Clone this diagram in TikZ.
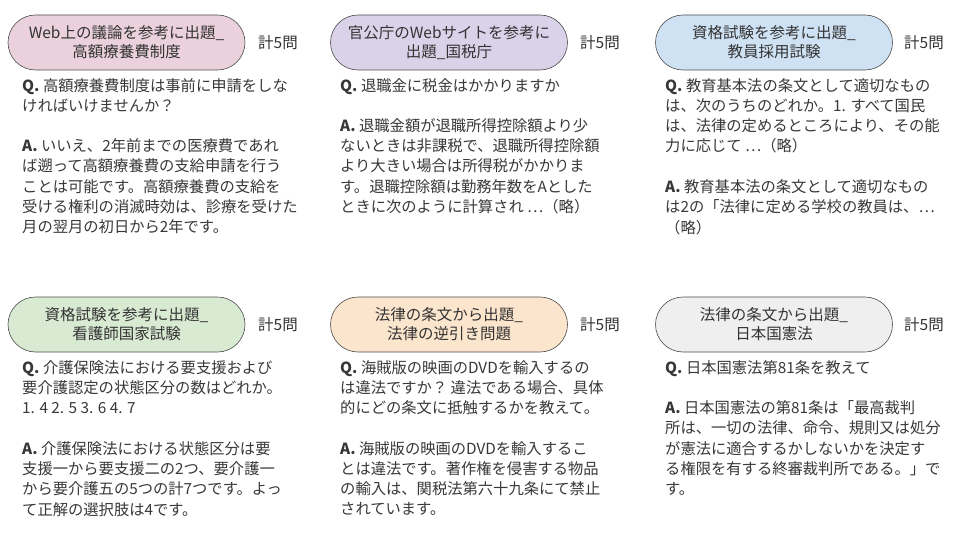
\documentclass[tikz,border=0pt]{standalone}
\usepackage{fontspec}
\setmainfont{Noto Sans CJK JP}
\begin{document}
\begin{tikzpicture}[x=1pt,y=-1pt,
  pill/.style={draw=black!70,line width=0.6pt,rounded corners=27.5pt,minimum width=237pt,minimum height=55pt,align=center,font=\fontsize{15.5}{19}\selectfont,text=black!80,inner sep=0pt},
  cnt/.style={font=\fontsize{15.5}{18}\selectfont,text=black!80},
  body/.style={anchor=north west,align=left,font=\fontsize{15.3}{20.3}\selectfont,text=black!78,inner sep=0pt}]
\definecolor{cpink}{HTML}{EAD1DC}
\definecolor{cpurple}{HTML}{D9D2E9}
\definecolor{cblue}{HTML}{CFE2F3}
\definecolor{cgreen}{HTML}{D9EAD3}
\definecolor{corange}{HTML}{FCE5CD}
\definecolor{cgray}{HTML}{EFEFEF}
\useasboundingbox (0,0) rectangle (960,540);
\fill[white] (0,0) rectangle (960,540);
% row 1
\node[pill,fill=cpink] (p1) at (126.5,42.5) {Web上の議論を参考に出題\_\\高額療養費制度};
\node[cnt] (c1) at (278,43) {計5問};
\node[body] (q1) at (22,78) {\textbf{Q.} 高額療養費制度は事前に申請をしな\\ければいけませんか？};
\node[body] (a1) at (22,138.5) {\textbf{A.} いいえ、2年前までの医療費であれ\\ば遡って高額療養費の支給申請を行う\\ことは可能です。高額療養費の支給を\\受ける権利の消滅時効は、診療を受けた\\月の翌月の初日から2年です。};
\node[pill,fill=cpurple] (p2) at (449,42.5) {官公庁のWebサイトを参考に\\出題\_国税庁};
\node[cnt] (c2) at (600,43) {計5問};
\node[body] (q2) at (340,78) {\textbf{Q.} 退職金に税金はかかりますか};
\node[body] (a2) at (340,118.2) {\textbf{A.} 退職金額が退職所得控除額より少\\ないときは非課税で、退職所得控除額\\より大きい場合は所得税がかかりま\\す。退職控除額は勤務年数をAとした\\ときに次のように計算され …（略）};
\node[pill,fill=cblue] (p3) at (774,42.5) {資格試験を参考に出題\_\\教員採用試験};
\node[cnt] (c3) at (924,43) {計5問};
\node[body] (q3) at (665,78) {\textbf{Q.} 教育基本法の条文として適切なもの\\は、次のうちのどれか。1. すべて国民\\は、法律の定めるところにより、その能\\力に応じて …（略）};
\node[body] (a3) at (665,179.5) {\textbf{A.} 教育基本法の条文として適切なもの\\は2の「法律に定める学校の教員は、…\\（略）};
% row 2
\node[pill,fill=cgreen] (p4) at (126.5,324.5) {資格試験を参考に出題\_\\看護師国家試験};
\node[cnt] (c4) at (278,325) {計5問};
\node[body] (q4) at (22,360) {\textbf{Q.} 介護保険法における要支援および\\要介護認定の状態区分の数はどれか。\\1. 4 2. 5 3. 6 4. 7};
\node[body] (a4) at (22,441) {\textbf{A.} 介護保険法における状態区分は要\\支援一から要支援二の2つ、要介護一\\から要介護五の5つの計7つです。よっ\\て正解の選択肢は4です。};
\node[pill,fill=corange] (p5) at (449,324.5) {法律の条文から出題\_\\法律の逆引き問題};
\node[cnt] (c5) at (600,325) {計5問};
\node[body] (q5) at (340,360) {\textbf{Q.} 海賊版の映画のDVDを輸入するの\\は違法ですか？ 違法である場合、具体\\的にどの条文に抵触するかを教えて。};
\node[body] (a5) at (340,441) {\textbf{A.} 海賊版の映画のDVDを輸入するこ\\とは違法です。著作権を侵害する物品\\の輸入は、関税法第六十九条にて禁止\\されています。};
\node[pill,fill=cgray] (p6) at (774,324.5) {法律の条文から出題\_\\日本国憲法};
\node[cnt] (c6) at (924,325) {計5問};
\node[body] (q6) at (665,360) {\textbf{Q.} 日本国憲法第81条を教えて};
\node[body] (a6) at (665,400.5) {\textbf{A.} 日本国憲法の第81条は「最高裁判\\所は、一切の法律、命令、規則又は処分\\が憲法に適合するかしないかを決定す\\る権限を有する終審裁判所である。」で\\す。};
\end{tikzpicture}
\end{document}
